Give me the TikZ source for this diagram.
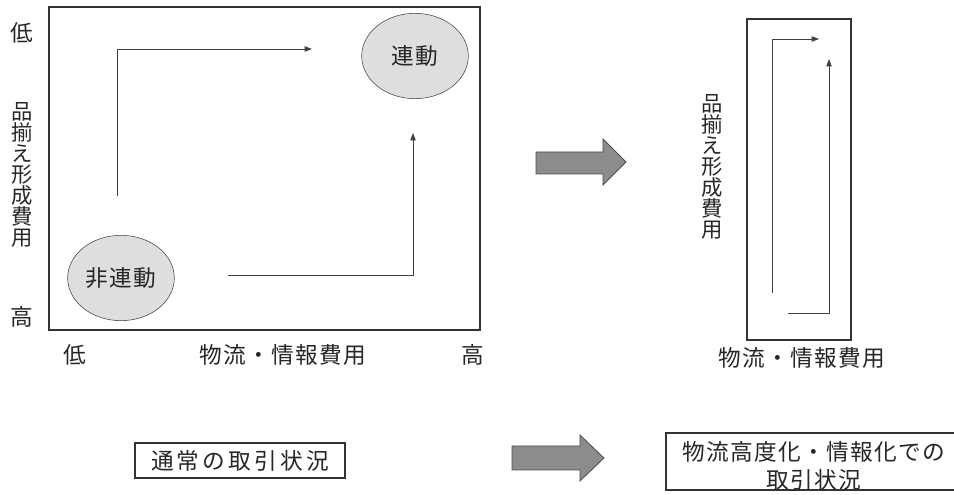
\documentclass[tikz,border=0pt]{standalone}
\usepackage{fontspec}
\setmainfont{Noto Sans CJK JP}[LetterSpace=6]
\newfontfamily\widejp{Noto Sans CJK JP}[LetterSpace=14]
\usepackage{tikz}
\usetikzlibrary{arrows.meta,shapes.geometric,positioning}
\usepackage{xcolor}

\begin{document}
\begin{tikzpicture}[x=0.75pt,y=-0.75pt,
  lbl/.style={font=\fontsize{17}{18}\selectfont,inner sep=0pt,text=black!85},
  vlbl/.style={lbl,align=center,font=\fontsize{16}{15.8}\selectfont},
  oval/.style={ellipse,draw=black!75,fill=black!13,minimum width=80pt,minimum height=64pt,inner sep=0pt,lbl},
  arr/.style={draw=black!75,line width=0.6pt,-{Triangle[length=5.5pt,width=4pt]}},
  frame/.style={draw=black!80,line width=0.8pt},
  bigarrow/.style={fill=black!45,draw=black!70,line width=0.6pt}]
\useasboundingbox (0,0) rectangle (954,495);
% left panel
\draw[frame] (49,7) rectangle (480,330);
\node[lbl] (ylow) at (22,33) {低};
\node[lbl] (yhigh) at (22,317) {高};
\node[vlbl] (ylab) at (22,175) {品\\揃\\え\\形\\成\\費\\用};
\node[lbl] (xlow) at (75,355) {低};
\node[lbl] (xlab) at (283,355) {物流・情報費用};
\node[lbl] (xhigh) at (473,355) {高};
\node[oval] (rendo) at (415,56) {連動};
\node[oval] (hirendo) at (121,278) {非連動};
\coordinate (a1) at (117,196);
\coordinate (a1e) at (312,49);
\coordinate (a2) at (228,275);
\coordinate (a2e) at (413,133);
\draw[arr] (a1) |- (a1e);
\draw[arr] (a2) -| (a2e);
% block arrow
\fill[bigarrow] (536,152) -- (603,152) -- (603,139) -- (626,162) -- (603,185) -- (603,174) -- (536,174) -- cycle;
% right panel
\draw[frame] (747,19) rectangle (851,340);
\node[vlbl] (ylab2) at (712,167) {品\\揃\\え\\形\\成\\費\\用};
\node[lbl] (xlab2) at (802,358) {物流・情報費用};
\coordinate (b1) at (772,293);
\coordinate (b1e) at (819,39);
\coordinate (b2) at (788,313);
\coordinate (b2e) at (829,59);
\draw[arr] (b1) |- (b1e);
\draw[arr] (b2) -| (b2e);
% captions
\node[lbl,draw=black!80,line width=0.8pt,minimum width=157.5pt,minimum height=26.25pt] (cap1) at (240,460.5) {\widejp 通常の取引状況};
\fill[bigarrow] (512,446) -- (580,446) -- (580,435) -- (604,458) -- (580,481) -- (580,470) -- (512,470) -- cycle;
\draw[frame] (666,433) rectangle (958,490);
\node[lbl,align=center,font=\fontsize{17}{21}\selectfont] (cap2) at (814,466) {物流高度化・情報化での\\取引状況};
\end{tikzpicture}
\end{document}
